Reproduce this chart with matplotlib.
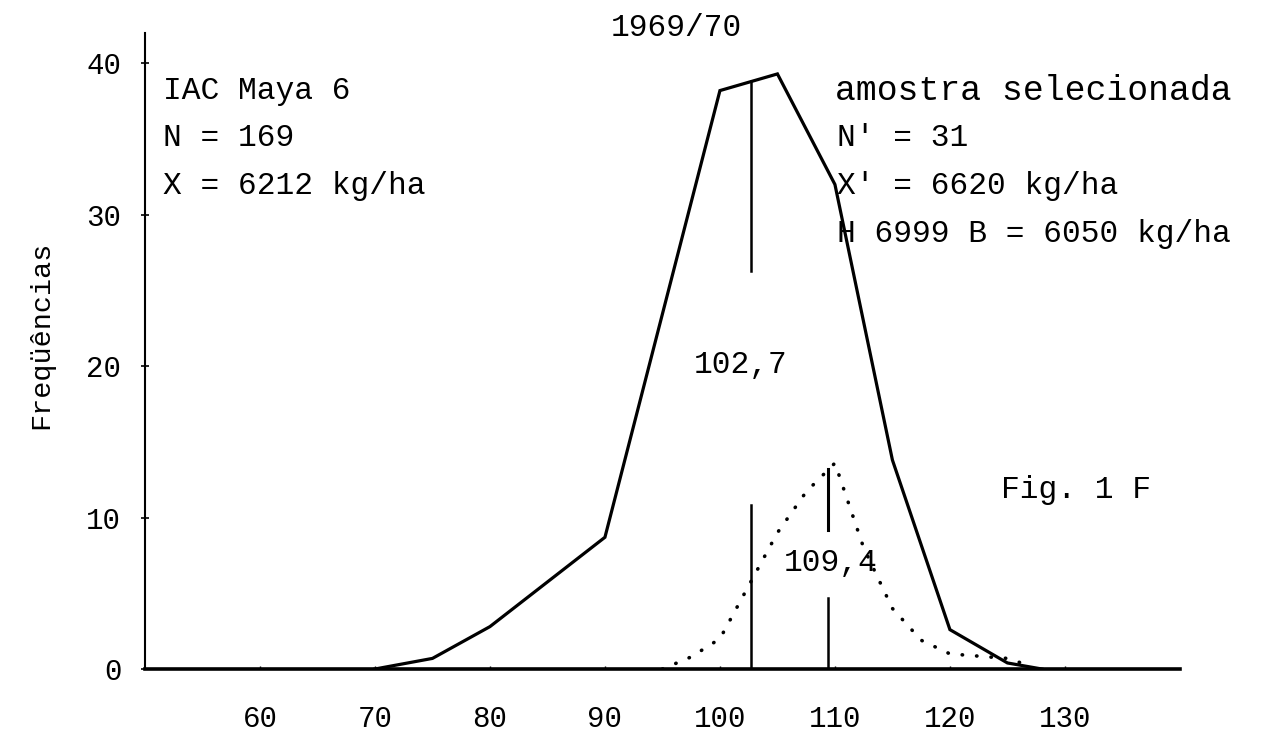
import numpy as np
import matplotlib.pyplot as plt

# distribuicao de frequencias da producao (% da testemunha) - IAC Maya 6, 1969/70
classes = [70, 75, 80, 90, 100, 105, 110, 115, 120, 125, 128]
freq_total = [0, 0.7, 2.8, 8.7, 38.2, 39.3, 32.0, 13.8, 2.6, 0.4, 0]

# amostra selecionada
classes_sel = [95, 97.5, 100, 102.5, 105, 107.5, 110, 112.5, 115, 117.5, 120, 125, 127]
freq_sel = [0, 0.8, 2.0, 5.5, 9.0, 11.7, 13.6, 8.0, 4.0, 1.9, 1.0, 0.7, 0.2]

# medias (linhas verticais)
media_total = 102.7
media_sel = 109.4

xticks = [60, 70, 80, 90, 100, 110, 120, 130]
yticks = [0, 10, 20, 30, 40]

fonte = "Liberation Mono"
plt.rcParams['font.family'] = [fonte, 'DejaVu Sans Mono']

fig = plt.figure(figsize=(12.66, 7.31), dpi=100)
ax = fig.add_axes([0.1145, 0.0848, 0.8175, 0.870])

ax.plot(classes, freq_total, color="black", lw=2.3, solid_joinstyle="miter")
ax.plot(classes_sel, freq_sel, color="black", lw=2.6,
        linestyle=(0, (0.1, 3.9)), dash_capstyle="round")

# linha da media geral, interrompida pelo rotulo
ax.plot([media_total, media_total], [26.3, 38.8], color="black", lw=1.8)
ax.plot([media_total, media_total], [0, 10.8], color="black", lw=1.8)
# linha da media da amostra
ax.plot([media_sel, media_sel], [9.2, 13.2], color="black", lw=2.2)
ax.plot([media_sel, media_sel], [0, 4.7], color="black", lw=1.8)

ax.set_xlim(50, 140)
ax.set_ylim(0, 42)
ax.set_xticks(xticks)
ax.set_yticks(yticks)
ax.tick_params(axis="x", length=2, width=1, direction="in", pad=26, labelsize=21)
ax.tick_params(axis="y", length=6, width=1.2, direction="inout", pad=14, labelsize=21)

for s in ["top", "right"]:
    ax.spines[s].set_visible(False)
ax.spines["left"].set_linewidth(1.5)
ax.spines["bottom"].set_linewidth(2.6)

ax.set_ylabel("Freqüências", fontsize=20.5)
ax.yaxis.set_label_coords(-0.088, 0.525)

tam = 22.5
ax.text(96.2, 42.3, "1969/70", fontsize=tam, ha="center", va="center", clip_on=False)

ax.text(51.6, 38.2, "IAC Maya 6", fontsize=tam, va="center")
ax.text(51.6, 35.05, "N = 169", fontsize=tam, va="center")
ax.text(51.6, 31.9, "X = 6212 kg/ha", fontsize=tam, va="center")

ax.text(110.0, 38.2, "amostra selecionada", fontsize=25, va="center")
ax.text(110.2, 35.05, "N' = 31", fontsize=tam, va="center")
ax.text(110.2, 31.9, "X' = 6620 kg/ha", fontsize=tam, va="center")
ax.text(110.2, 28.75, "H 6999 B = 6050 kg/ha", fontsize=tam, va="center")

ax.text(101.8, 20.1, "102,7", fontsize=tam, ha="center", va="center")
ax.text(109.6, 7.0, "109,4", fontsize=tam, ha="center", va="center")
ax.text(124.4, 11.8, "Fig. 1 F", fontsize=tam, va="center")

fig.savefig("out.png", dpi=100)
